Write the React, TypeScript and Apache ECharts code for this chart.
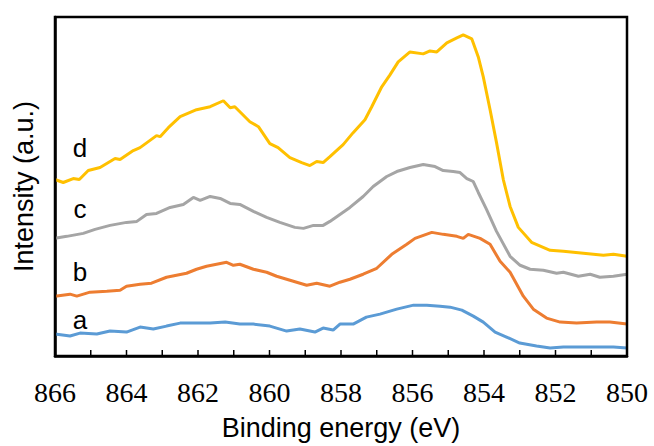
import React, { useEffect, useRef } from "react";
import * as echarts from "echarts";

// Binding energy (eV) and intensity (a.u., arbitrary, offset per curve)
const energyA = [866.0, 865.58, 865.3, 864.83, 864.46, 864.0, 863.62, 863.25, 862.88, 862.5, 862.04, 861.66, 861.24, 860.83, 860.45, 859.99, 859.52, 859.15, 858.73, 858.5, 858.22, 858.03, 857.66, 857.29, 856.91, 856.44, 855.97, 855.6, 855.23, 854.95, 854.62, 854.3, 854.02, 853.69, 853.37, 853.0, 852.53, 852.15, 851.78, 851.31, 850.85, 850.38, 850.0];
const intensityA = [22, 20, 23, 22, 25, 24, 29, 27, 30, 33, 33, 33, 34, 32, 32, 30, 25, 27, 24, 28, 26, 32, 32, 39, 42, 47, 51, 51, 50, 49, 46, 40, 34, 24, 19, 13, 10, 8, 9, 9, 9, 9, 8];

const energyB = [866.0, 865.58, 865.39, 865.02, 864.55, 864.18, 864.0, 863.62, 863.3, 862.88, 862.32, 862.04, 861.76, 861.2, 861.01, 860.83, 860.45, 860.08, 859.8, 859.52, 858.96, 858.68, 858.31, 858.03, 857.75, 857.38, 857.0, 856.58, 856.16, 855.93, 855.46, 855.14, 854.76, 854.58, 854.44, 854.11, 853.83, 853.55, 853.27, 852.9, 852.62, 852.25, 851.87, 851.41, 850.85, 850.48, 850.0];
const intensityB = [60, 62, 60, 64, 65, 66, 70, 72, 73, 79, 83, 87, 90, 94, 91, 92, 87, 84, 80, 77, 71, 73, 70, 74, 77, 82, 88, 102, 112, 118, 124, 122, 120, 118, 122, 118, 112, 95, 84, 60, 47, 38, 34, 33, 34, 34, 32];

const energyC = [866.0, 865.67, 865.21, 864.88, 864.46, 864.0, 863.71, 863.44, 863.16, 862.78, 862.41, 862.13, 861.94, 861.66, 861.38, 861.1, 860.83, 860.45, 860.08, 859.71, 859.29, 859.05, 858.77, 858.5, 858.31, 858.03, 857.75, 857.38, 857.1, 856.72, 856.44, 856.07, 855.7, 855.37, 855.14, 854.86, 854.67, 854.48, 854.3, 854.16, 853.93, 853.65, 853.27, 852.99, 852.71, 852.34, 851.97, 851.78, 851.36, 851.03, 850.76, 850.38, 850.0];
const intensityC = [118, 120, 123, 127, 131, 134, 135, 142, 143, 149, 152, 159, 156, 160, 158, 153, 152, 145, 139, 134, 129, 128, 131, 131, 135, 142, 149, 160, 170, 180, 185, 189, 192, 190, 186, 185, 184, 178, 175, 164, 147, 125, 100, 91, 87, 86, 83, 84, 80, 82, 79, 80, 82];

const energyD = [866.0, 865.77, 865.49, 865.32, 865.07, 864.74, 864.32, 864.18, 863.81, 863.62, 863.16, 863.06, 862.83, 862.5, 862.04, 861.66, 861.29, 861.1, 860.97, 860.55, 860.31, 859.99, 859.76, 859.43, 859.1, 858.87, 858.68, 858.5, 858.31, 857.94, 857.66, 857.33, 857.14, 856.86, 856.63, 856.4, 856.07, 855.7, 855.51, 855.32, 855.04, 854.76, 854.58, 854.34, 854.16, 854.02, 853.83, 853.65, 853.46, 853.27, 853.04, 852.67, 852.15, 851.78, 851.22, 850.66, 850.38, 850.0];
const intensityD = [177, 174, 178, 177, 186, 189, 198, 197, 206, 209, 221, 220, 229, 240, 247, 250, 256, 249, 250, 235, 230, 213, 209, 199, 194, 191, 195, 194, 200, 212, 224, 237, 250, 270, 282, 295, 305, 303, 306, 305, 314, 319, 322, 318, 300, 280, 247, 214, 177, 150, 129, 114, 106, 105, 103, 101, 102, 100];

const curveNames = ["a", "b", "c", "d"];
const curveColors = ["#5B9BD5", "#ED7D31", "#A5A5A5", "#FFC000"];
const xTickLabels = [866, 864, 862, 860, 858, 856, 854, 852, 850];
const xMinorTicks = [866, 865, 864, 863, 862, 861, 860, 859, 858, 857, 856, 855, 854, 853, 852, 851, 850];

const X_MIN = 850;
const X_MAX = 866;
const Y_MIN = 0;
const Y_MAX = 340;

const zip = (xs: number[], ys: number[]) => xs.map((x, i) => [x, ys[i]]);

export default function App() {
  const ref = useRef<HTMLDivElement>(null);
  useEffect(() => {
    if (!ref.current) return;
    const chart = echarts.init(ref.current, null, { renderer: "svg" });
    const datasets = [
      zip(energyA, intensityA),
      zip(energyB, intensityB),
      zip(energyC, intensityC),
      zip(energyD, intensityD),
    ];
    const labelY = [320, 272, 209, 148];
    chart.setOption({
      animation: false,
      grid: { left: 55, top: 17, right: 27, bottom: 89 },
      xAxis: {
        type: "value",
        min: X_MIN,
        max: X_MAX,
        interval: 1,
        inverse: true,
        name: "Binding energy (eV)",
        nameLocation: "middle",
        nameGap: 58,
        nameTextStyle: { fontFamily: "Liberation Sans", fontSize: 27, color: "#000" },
        axisLine: { show: true, lineStyle: { color: "#000", width: 2.5 } },
        axisTick: { show: false },
        axisLabel: { show: false },
        splitLine: { show: false },
      },
      yAxis: {
        type: "value",
        min: Y_MIN,
        max: Y_MAX,
        name: "Intensity (a.u.)",
        nameLocation: "middle",
        nameGap: 18,
        nameTextStyle: { fontFamily: "Liberation Sans", fontSize: 27, color: "#000" },
        axisLine: { show: true, lineStyle: { color: "#000", width: 2.5 } },
        axisTick: { show: false },
        axisLabel: { show: false },
        splitLine: { show: false },
      },
      series: datasets.map((d, i) => ({
        name: curveNames[i],
        type: "line",
        data: d,
        showSymbol: false,
        symbol: "none",
        lineStyle: { color: curveColors[i], width: 3 },
        itemStyle: { color: curveColors[i] },
        z: 2 + i,
      })),
    });

    // Frame, ticks and tick labels placed through the chart's own scales
    const toPx = (x: number, y: number) => chart.convertToPixel({ gridIndex: 0 }, [x, y]) as number[];
    const tl = toPx(X_MAX, Y_MAX);
    const br = toPx(X_MIN, Y_MIN);
    const left = Math.min(tl[0], br[0]);
    const right = Math.max(tl[0], br[0]);
    const top = Math.min(tl[1], br[1]);
    const bottom = Math.max(tl[1], br[1]);

    const graphics: any[] = [];
    graphics.push({
      type: "rect",
      shape: { x: left, y: top, width: right - left, height: bottom - top },
      style: { fill: "none", stroke: "#000", lineWidth: 2.5 },
      z: 10,
      silent: true,
    });
    xMinorTicks.forEach((v) => {
      const p = toPx(v, Y_MIN);
      graphics.push({
        type: "line",
        shape: { x1: p[0], y1: bottom, x2: p[0], y2: bottom - 6 },
        style: { stroke: "#000", lineWidth: 1.5 },
        z: 10,
        silent: true,
      });
    });
    xTickLabels.forEach((v) => {
      const p = toPx(v, Y_MIN);
      graphics.push({
        type: "text",
        x: p[0],
        y: bottom + 36,
        style: {
          text: String(v),
          fontFamily: "Liberation Serif",
          fontSize: 28,
          fill: "#000",
          align: "center",
          verticalAlign: "middle",
        },
        z: 10,
        silent: true,
      });
    });
    curveNames.forEach((n, i) => {
      graphics.push({
        type: "text",
        x: 80,
        y: labelY[i],
        style: {
          text: n,
          fontFamily: "Liberation Sans",
          fontSize: 26,
          fill: "#000",
          align: "center",
          verticalAlign: "middle",
        },
        z: 10,
        silent: true,
      });
    });
    chart.setOption({ graphic: graphics });

    return () => chart.dispose();
  }, []);
  return (
    <div
      ref={ref}
      style={{ position: "fixed", left: 0, top: 0, width: 654, height: 446, background: "#fff" }}
    />
  );
}
